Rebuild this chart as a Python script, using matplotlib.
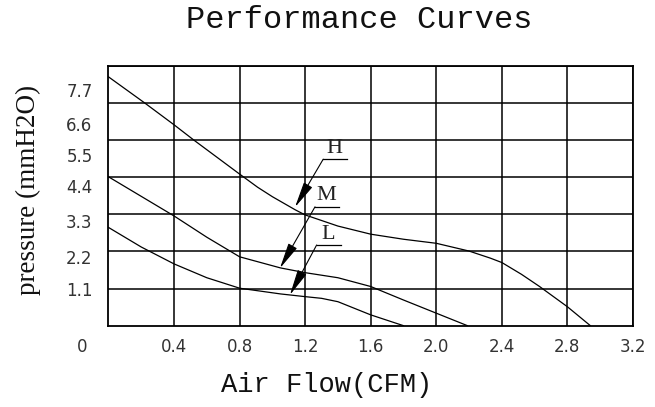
#!/usr/bin/env python3
"""Fan performance curves: pressure vs air flow for H / M / L speeds."""

import matplotlib
matplotlib.use("Agg")
import matplotlib.pyplot as plt

# ── Data ─────────────────────────────────────────────────────────────────────
h_flow = [0.0, 0.22, 0.40, 0.52, 0.80, 0.91, 1.00, 1.14, 1.20, 1.40, 1.60,
          1.80, 2.00, 2.20, 2.33, 2.40, 2.52, 2.63, 2.80, 2.94]
h_pres = [7.37, 6.60, 5.95, 5.50, 4.49, 4.10, 3.82, 3.43, 3.28, 2.95, 2.71,
          2.56, 2.44, 2.21, 2.00, 1.87, 1.52, 1.16, 0.56, 0.0]

m_flow = [0.0, 0.20, 0.40, 0.60, 0.80, 1.05, 1.20, 1.40, 1.60, 1.80, 2.00,
          2.19]
m_pres = [4.41, 3.83, 3.25, 2.62, 2.04, 1.71, 1.57, 1.42, 1.16, 0.76, 0.37,
          0.0]

l_flow = [0.0, 0.20, 0.40, 0.60, 0.80, 1.05, 1.20, 1.30, 1.40, 1.60, 1.80]
l_pres = [2.91, 2.33, 1.83, 1.42, 1.11, 0.94, 0.86, 0.81, 0.71, 0.32, 0.0]

x_ticks = [0.4, 0.8, 1.2, 1.6, 2.0, 2.4, 2.8, 3.2]
y_grid = [1.1, 2.2, 3.3, 4.4, 5.5, 6.6, 7.7]
y_labels = ["1.1", "2.2", "3.3", "4.4", "5.5", "6.6", "7.7"]

# curve name -> (arrow tip, underline start)
callouts = {
    "H": ((1.138, 3.51), (1.31, 4.93)),
    "M": ((1.046, 1.70), (1.26, 3.52)),
    "L": ((1.107, 0.91), (1.27, 2.39)),
}

# where the y tick labels actually sit in the drawing (they drift off the grid)
y_label_pos = [1.03, 1.97, 3.04, 4.08, 5.01, 5.92, 6.93]
tick_row = -0.63

fig = plt.figure(figsize=(6.55, 4.07), dpi=100)
ax = fig.add_axes([0.1656, 0.1998, 0.8008, 0.6388])
ax.set_xlim(0, 3.2)
ax.set_ylim(0, 7.7)

for x in x_ticks:
    ax.axvline(x, color="black", lw=1.1)
for y in y_grid:
    ax.axhline(y, color="black", lw=1.1)
for s in ax.spines.values():
    s.set_linewidth(1.3)

for fx, py in [(h_flow, h_pres), (m_flow, m_pres), (l_flow, l_pres)]:
    ax.plot(fx, py, color="black", lw=0.9)

ax.set_xticks([])
ax.set_yticks([])

tick_font = dict(family="DejaVu Sans", fontsize=12, color="#333333")
for x in x_ticks:
    ax.text(x, tick_row, f"{x:.1f}", ha="center", va="center",
            clip_on=False, **tick_font)
ax.text(-0.16, tick_row, "0", ha="center", va="center", clip_on=False,
        **tick_font)
for pos, lab in zip(y_label_pos, y_labels):
    ax.text(-0.097, pos, lab, ha="right", va="center", clip_on=False,
            **tick_font)

# H / M / L callouts
for name, (tip, start) in callouts.items():
    ax.annotate("", xy=tip, xytext=start,
                arrowprops=dict(arrowstyle="-|>,head_length=1.6,head_width=0.3",
                                color="black", lw=0.8, shrinkA=0, shrinkB=0),
                annotation_clip=False)
    ax.plot([start[0], start[0] + 0.146], [start[1], start[1]],
            color="black", lw=0.9)
    ax.text(start[0] + 0.068, start[1] + 0.04, name, ha="center", va="bottom",
            family="Liberation Serif", fontsize=16, color="#222222")

fig.text(0.549, 0.952, "Performance Curves", ha="center", va="center",
         family="Liberation Mono", fontsize=23, color="#111111")
fig.text(0.499, 0.055, "Air Flow(CFM)", ha="center", va="center",
         family="Liberation Mono", fontsize=19.5, color="#111111")
fig.text(0.043, 0.533, "pressure (mmH2O)", ha="center", va="center",
         rotation=90, family="Liberation Serif", fontsize=19.5, color="#111111")

fig.savefig("out.png", dpi=100, facecolor="white")
